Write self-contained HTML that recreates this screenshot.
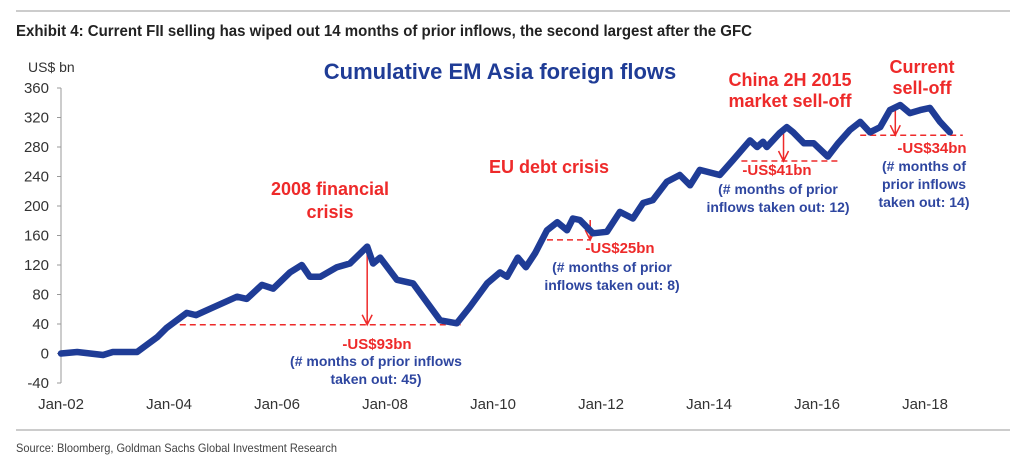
<!DOCTYPE html>
<html><head><meta charset="utf-8"><style>
html,body{margin:0;padding:0;background:#fff;width:1024px;height:467px;overflow:hidden}
svg{display:block;font-family:"Liberation Sans",Arial,sans-serif}
</style></head><body>
<svg id="chart" width="1024" height="467" viewBox="0 0 1024 467">
<line x1="16" y1="11" x2="1010" y2="11" stroke="#bbb" stroke-width="1.5"/>
<text x="16" y="36" font-family="'Liberation Sans Narrow','Liberation Sans',sans-serif" font-weight="bold" font-size="16" fill="#222" textLength="736" lengthAdjust="spacingAndGlyphs">Exhibit 4: Current FII selling has wiped out 14 months of prior inflows, the second largest after the GFC</text>
<text x="28" y="72" font-size="14" fill="#333">US$ bn</text>
<text x="500" y="79" text-anchor="middle" font-size="22" font-weight="bold" fill="#1f3c96">Cumulative EM Asia foreign flows</text>
<g id="axes"></g>
<g id="anno"></g>
<path id="line" fill="none" stroke="#1f3c96" stroke-width="6.5" stroke-linejoin="round" stroke-linecap="round"/>
<g id="anno2"></g>
<line x1="16" y1="430" x2="1010" y2="430" stroke="#bbb" stroke-width="1.5"/>
<text x="16" y="452" font-family="'Liberation Sans Narrow','Liberation Sans',sans-serif" font-size="12" fill="#444" textLength="321" lengthAdjust="spacingAndGlyphs">Source: Bloomberg, Goldman Sachs Global Investment Research</text>
</svg>
<script>
const yTicks=[360,320,280,240,200,160,120,80,40,0,-40];
const xTickYears=[2002,2004,2006,2008,2010,2012,2014,2016,2018];
const xTickLabels=["Jan-02","Jan-04","Jan-06","Jan-08","Jan-10","Jan-12","Jan-14","Jan-16","Jan-18"];
const dates=[2002.0,2002.3,2002.78,2002.96,2003.41,2003.78,2003.96,2004.33,2004.5,2004.8,2005.26,2005.44,2005.72,2005.93,2006.24,2006.46,2006.61,2006.8,2007.11,2007.35,2007.67,2007.78,2007.91,2008.22,2008.52,2009.02,2009.33,2009.57,2009.89,2010.13,2010.26,2010.46,2010.61,2010.78,2011.0,2011.19,2011.37,2011.48,2011.61,2011.85,2012.11,2012.35,2012.59,2012.78,2012.96,2013.22,2013.46,2013.65,2013.83,2014.2,2014.44,2014.76,2014.89,2015.0,2015.07,2015.31,2015.44,2015.56,2015.76,2015.94,2016.2,2016.39,2016.61,2016.8,2016.98,2017.17,2017.35,2017.54,2017.72,2017.91,2018.09,2018.28,2018.46];
const values=[0,2,-2,2,2,22,35,55,52,62,77,74,93,88,110,120,104,104,117,122,145,122,130,100,95,45,41,63,95,110,104,130,117,136,167,178,167,183,181,163,165,192,183,204,208,233,242,228,249,242,262,289,280,287,280,299,307,300,285,285,267,285,303,314,300,307,330,337,326,330,333,314,300];
const X0=61,PXY=54,Y0=353.5,PXV=0.7375;
const xs=d=>X0+(d-2002)*PXY, ys=v=>Y0-v*PXV;
const NS="http://www.w3.org/2000/svg";
function mk(tag,attrs,parent,text){const e=document.createElementNS(NS,tag);for(const k in attrs)e.setAttribute(k,attrs[k]);if(text!==undefined)e.textContent=text;parent.appendChild(e);return e;}
const axes=document.getElementById('axes');
const yAxis=mk('line',{x1:X0,y1:ys(360),x2:X0,y2:ys(-40),stroke:'#999','stroke-width':1},axes);


yTicks.forEach(t=>{
  const tk=mk('line',{x1:X0-4,y1:ys(t),x2:X0,y2:ys(t),stroke:'#999'},axes);
  
  
  const l=mk('text',{x:X0-12,y:ys(t)+5,'text-anchor':'end','font-size':15,fill:'#333'},axes,String(t));
  
  
});
xTickYears.forEach((y,i)=>{
  const l=mk('text',{x:xs(y),y:409,'text-anchor':'middle','font-size':15,fill:'#333'},axes,xTickLabels[i]);
  
  
});
document.getElementById('line').setAttribute('d',dates.map((d,i)=>(i?'L':'M')+xs(d).toFixed(1)+' '+ys(values[i]).toFixed(1)).join(' '));
const anno=document.getElementById('anno');
const RED='#ee2a2a',BLUE='#2e46a0';
const drawdowns=[[2004.2,2009.4,39,2007.67,145],[2011.0,2011.8,154,2011.8,181],[2014.6,2016.4,261,2015.38,307],[2016.8,2018.7,296,2017.45,337]];
drawdowns.forEach(dd=>{
  const dl=mk('line',{x1:xs(dd[0]),y1:ys(dd[2]),x2:xs(dd[1]),y2:ys(dd[2]),stroke:RED,'stroke-width':1.5,'stroke-dasharray':'6 4'},anno);
  
  
  const ax=xs(dd[3]),y1=ys(dd[4]),y2=ys(dd[2]);
  const ar=mk('path',{d:`M${ax} ${y1} L${ax} ${y2} M${ax-5} ${y2-10} L${ax} ${y2} L${ax+5} ${y2-10}`,stroke:RED,'stroke-width':1.5,fill:'none'},anno);
  
  
});
const a2=document.getElementById('anno2');
const labels=[
 ['330','195','2008 financial',RED,18,'crisis-label-2008'],['330','218','crisis',RED,18,'crisis-label-2008'],
 ['377','349','-US$93bn',RED,15,'drawdown-label-93'],['376','366','(# months of prior inflows',BLUE,14,'months-note-45'],['376','384','taken out: 45)',BLUE,14,'months-note-45'],
 ['549','173','EU debt crisis',RED,18,'crisis-label-eu'],
 ['620','253','-US$25bn',RED,15,'drawdown-label-25'],['612','272','(# months of prior',BLUE,14,'months-note-8'],['612','290','inflows taken out: 8)',BLUE,14,'months-note-8'],
 ['790','86','China 2H 2015',RED,18,'crisis-label-china'],['790','107','market sell-off',RED,18,'crisis-label-china'],
 ['777','175','-US$41bn',RED,15,'drawdown-label-41'],['778','194','(# months of prior',BLUE,14,'months-note-12'],['778','212','inflows taken out: 12)',BLUE,14,'months-note-12'],
 ['922','73','Current',RED,18,'crisis-label-current'],['922','94','sell-off',RED,18,'crisis-label-current'],
 ['932','153','-US$34bn',RED,15,'drawdown-label-34'],['924','171','(# months of',BLUE,14,'months-note-14'],['924','189','prior inflows',BLUE,14,'months-note-14'],['924','207','taken out: 14)',BLUE,14,'months-note-14']
];
labels.forEach(L=>{
  const t=mk('text',{x:L[0],y:L[1],'text-anchor':'middle','font-size':L[4],'font-weight':'bold',fill:L[3]},a2,L[2]);
  
  
});
</script>
</body></html>
